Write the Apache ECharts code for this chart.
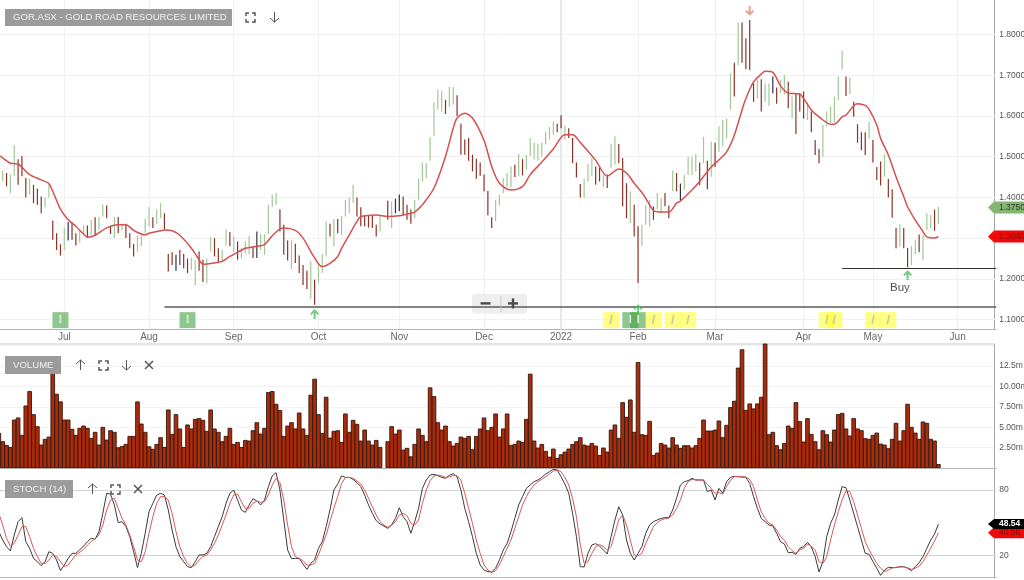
<!DOCTYPE html>
<html><head><meta charset="utf-8">
<style>html,body{margin:0;padding:0;background:#fff}#c{width:1024px;height:580px}</style>
<script src="https://cdn.jsdelivr.net/npm/echarts@6/dist/echarts.min.js"></script>
</head><body><div id="c"></div>
<script>
const monthNames = ['Jul','Aug','Sep','Oct','Nov','Dec','2022','Feb','Mar','Apr','May','Jun'];
const monthSlots = [17,39,61,83,104,126,146,166,186,209,227,249];
const slotCount = 260;
const priceGridLevels = [1.1,1.2,1.3,1.4,1.5,1.6,1.7,1.8];

const highs = [null,
1.466,1.46,1.456,1.528,1.494,1.502,1.448,1.446,1.431,1.421,1.402,1.40,1.435,1.343,1.312,1.285,1.326,1.339,1.339,1.312,1.32,1.331,1.331,1.345,1.351,1.352,1.382,1.38,1.329,1.351,1.352,1.335,1.335,1.312,1.286,1.306,1.307,1.347,1.376,1.351,1.371,1.386,1.361,
1.261,1.265,1.259,1.271,1.261,1.25,1.252,1.247,1.267,1.247,1.25,1.302,1.30,1.275,1.271,1.322,1.315,1.304,1.292,1.275,1.292,1.306,1.28,1.316,1.31,1.31,1.382,1.407,1.411,1.371,1.333,1.294,1.294,1.286,1.257,1.234,1.22,1.243,1.198,1.238,1.261,1.341,1.335,1.347,1.347,
1.355,1.394,1.40,1.431,1.40,1.376,1.355,1.355,1.355,1.333,1.353,null,1.392,1.39,1.397,1.407,1.402,1.382,1.37,1.394,1.446,1.486,1.484,1.548,1.634,1.666,1.661,1.64,1.671,1.671,1.651,1.581,1.542,1.546,1.505,1.495,1.486,1.456,1.416,1.351,1.394,1.407,1.448,1.46,1.476,1.48,1.507,1.494,1.505,1.546,1.534,1.532,1.535,1.562,1.573,1.587,1.581,1.602,1.576,1.57,1.546,1.486,1.433,1.446,1.483,1.497,1.476,1.474,1.456,1.456,1.532,1.55,1.531,1.497,1.435,1.415,1.382,1.329,1.333,1.382,1.394,1.378,1.411,1.398,1.411,1.38,1.466,1.46,
1.434,1.455,1.5,1.5,1.506,1.486,1.549,1.49,1.537,1.534,1.575,1.59,1.594,1.705,1.731,1.83,1.83,1.791,1.836,1.68,1.689,1.69,1.68,1.68,1.697,1.67,1.689,1.701,1.684,1.648,1.654,1.656,1.66,1.633,1.611,1.541,1.519,1.578,1.611,1.623,1.648,1.697,1.761,1.697,1.695,1.635,1.58,1.56,1.56,1.586,1.541,1.475,1.488,1.506,1.445,1.42,1.325,1.334,1.325,1.276,1.28,1.295,1.309,1.307,1.361,1.357,1.37,1.377];

const lows = [null,
1.44,1.427,1.41,1.452,1.431,1.452,1.40,1.407,1.386,1.382,1.361,1.376,1.40,1.296,1.271,1.257,1.271,1.294,1.296,1.282,1.289,1.308,1.302,1.308,1.306,1.32,1.353,1.349,1.31,1.30,1.312,1.32,1.30,1.275,1.255,1.267,1.28,1.312,1.329,1.325,1.335,1.349,1.322,
1.218,1.234,1.22,1.234,1.226,1.214,1.222,1.184,1.22,1.192,1.189,1.267,1.255,1.24,1.24,1.281,1.28,1.267,1.247,1.25,1.263,1.261,1.251,1.251,1.271,1.259,1.31,1.376,1.382,1.316,1.259,1.245,1.224,1.239,1.214,1.185,1.175,1.151,1.136,1.189,1.214,1.255,1.304,1.28,1.312,
1.308,1.353,1.361,1.386,1.353,1.329,1.329,1.326,1.325,1.304,1.316,null,1.345,1.325,1.361,1.366,1.357,1.345,1.335,1.349,1.394,1.439,1.448,1.49,1.55,1.616,1.611,1.605,1.622,1.628,1.6,1.505,1.505,1.49,1.464,1.446,1.453,1.415,1.356,1.325,1.341,1.38,1.411,1.427,1.425,1.45,1.452,1.454,1.468,1.501,1.493,1.49,1.501,1.53,1.542,1.554,1.56,1.57,1.542,1.546,1.484,1.449,1.40,1.398,1.439,1.452,1.431,1.439,1.425,1.423,1.472,1.48,1.484,1.378,1.349,1.337,1.304,1.19,1.281,1.333,1.329,1.345,1.37,1.361,1.378,1.349,1.415,1.415,
1.393,1.418,1.455,1.455,1.463,1.43,1.484,1.42,1.451,1.475,1.512,1.525,1.545,1.615,1.648,1.725,1.731,1.715,1.713,1.635,1.643,1.611,1.635,1.625,1.656,1.63,1.656,1.652,1.619,1.594,1.556,1.611,1.593,1.59,1.56,1.504,1.484,1.5,1.574,1.584,1.584,1.639,1.715,1.649,1.654,1.598,1.534,1.516,1.504,1.545,1.486,1.443,1.429,1.451,1.4,1.35,1.275,1.279,1.275,1.228,1.234,1.26,1.265,1.246,1.32,1.324,1.318,1.334];

// u = closed up, d = closed down, f = unchanged, - = no trade
const directions = ('-'+'uduudddudd'+'duudddufdd'+'uududuuddu'+'duddduuuud'+'uudddfdddu'+'udduudduud'+'uduuudfuuu'+'uudddudddd'+'uduuududuu'+'uuddddddu-'+
'duffddduuu'+'uuuuuduudd'+'dddddddduu'+'uuududuuuu'+'uuuudduddd'+'duuudduduu'+'dddudduuud'+'uuddudfuuu'+'udududuuuu'+'dudddduduu'+'fduududddu'+'ddduuuuuud'+'uddddudddu'+'dddudduudu'+'uudu').split('');

const maSlots = [0,1,3,4,5,6,8,11,13,14,16,18,20,22,23,25,28,31,33,35,37,38,39,42,43,45,47,50,52,53,56,58,60,62,64,67,69,71,73,74,77,79,81,83,84,86,88,
89,91,93,94,98,101,104,107,108,110,113,116,118,119,121,123,126,128,130,133,136,138,141,144,147,149,151,155,158,159,161,163,165,167,168,170,172,174,176,
177,180,182,185,187,189,191,193,194,196,198,199,201,203,205,208,209,211,213,216,217,219,220,222,223,225,226,228,229,231,233,235,236,238,240,241,243,244];
const maValues = [1.503,1.497,1.484,1.483,1.482,1.474,1.456,1.443,1.434,1.415,1.371,1.345,1.329,1.31,1.302,1.307,1.325,1.333,1.333,1.319,1.31,1.308,1.312,1.318,1.32,1.318,1.307,1.275,1.247,1.236,1.239,1.243,1.255,1.265,1.275,1.28,1.284,1.306,1.323,1.325,1.319,1.30,1.267,1.237,1.23,1.238,1.255,
1.275,1.308,1.341,1.353,1.357,1.353,1.355,1.361,1.364,1.382,1.423,1.501,1.57,1.595,1.607,1.595,1.54,1.476,1.435,1.418,1.427,1.456,1.487,1.519,1.554,1.554,1.535,1.491,1.452,1.458,1.47,1.46,1.435,1.412,1.398,1.368,1.364,1.364,1.386,
1.391,1.418,1.439,1.475,1.492,1.512,1.553,1.615,1.643,1.684,1.703,1.71,1.707,1.674,1.656,1.654,1.643,1.615,1.598,1.58,1.58,1.598,1.602,1.625,1.63,1.626,1.616,1.578,1.545,1.504,1.451,1.402,1.377,1.344,1.316,1.303,1.30,1.304];

const volumes = [4.3,
3.28,2.83,2.58,5.94,6.19,4.06,7.66,9.43,6.6,5.12,2.87,3.57,3.85,11.68,9.1,8.16,5.94,5.94,4.8,4.06,4.92,5.2,4.92,3.69,4.43,2.87,5.04,3.48,4.63,4.43,2.54,2.7,2.95,3.93,3.93,8.16,5.45,4.43,2.66,2.34,2.95,3.77,2.58,7.17,4.18,6.6,4.84,2.58,5.33,4.84,6.02,6.11,5.9,4.55,7.17,4.84,4.43,3.28,3.93,4.92,2.95,3.2,2.58,3.44,3.36,4.63,5.61,4.22,4.92,9.3,9.43,7.87,7.09,3.93,5.2,5.61,4.84,6.8,4.84,4.06,8.98,10.94,6.6,4.3,8.73,3.73,4.55,4.63,
3.2,6.68,4.43,5.9,5.41,3.36,4.71,3.36,2.87,3.44,2.58,null,3.28,5.12,4.22,4.71,2.25,2.46,1.43,2.95,4.84,4.06,3.28,9.88,8.81,5.61,4.71,5.2,3.28,2.75,3.07,3.85,3.69,3.93,2.3,3.93,4.84,6.19,4.63,5.04,6.68,3.85,4.84,6.68,2.83,2.95,3.36,3.2,6.02,11.56,3.36,2.5,2.95,2.09,1.39,2.38,1.23,1.68,2.01,2.38,2.95,3.28,3.77,2.87,2.75,3.07,2.75,1.6,2.5,2.01,4.71,5.33,3.69,8.07,6.27,8.4,4.43,12.99,4.14,4.06,5.78,1.6,1.89,3.07,2.87,2.5,3.77,2.87,2.46,
2.79,2.79,2.5,2.79,3.69,5.94,4.59,4.59,4.71,5.82,3.77,5.29,7.46,8.24,12.3,14.55,7.13,7.91,7.3,7.91,8.73,15.29,4.14,4.43,2.79,2.3,3.07,5.2,4.92,8.07,5.74,3.24,6.11,4.18,3.28,2.3,4.63,4.14,3.24,4.71,6.6,6.76,4.84,3.98,6.11,4.84,4.63,3.65,3.57,4.06,4.34,2.99,2.87,2.42,3.57,5.53,3.36,4.63,7.87,5.04,4.34,3.57,5.7,5.53,3.57,3.36,0.49];

const stochK = [41.6,
33.9,27.8,23.9,38.5,50.8,54.4,32.4,26.3,17.1,14.1,10.4,14.1,23.2,21.7,15.6,5.8,11.0,17.1,21.7,21.7,24.8,28.4,32.4,35.5,34.6,41.6,58.4,76.8,76.1,66.1,49.8,50.8,46.2,37.0,23.2,8.6,21.7,40.1,59.9,67.6,75.2,76.8,75.2,61.5,43.1,27.8,18.7,14.1,9.5,8.6,14.1,20.2,20.2,21.7,27.8,37.0,46.2,55.3,67.6,76.8,79.8,70.6,61.5,59.3,66.1,71.9,69.7,66.1,70.6,82.9,92.7,95.7,79.8,52.3,24.8,16.8,17.1,17.1,11.9,7.0,12.5,15.6,26.3,32.4,46.2,61.5,79.8,85.3,
92.7,91.4,91.4,89.6,86.5,82.9,75.2,66.1,58.4,51.7,48.6,46.8,44.6,47.7,53.8,63.6,55.3,50.8,40.1,50.8,63.0,81.3,89.0,93.6,94.2,93.0,91.4,90.5,93.3,94.8,92.0,79.8,63.0,50.8,37.0,21.7,11.0,6.4,4.9,4.6,8.0,15.6,24.8,30.9,41.6,53.8,66.1,73.7,81.3,84.4,87.5,89.0,91.4,94.5,96.6,98.8,98.2,92.0,85.3,76.8,58.4,37.0,9.5,9.2,21.7,29.4,30.6,28.4,24.8,21.1,37.0,52.3,64.5,56.9,33.9,21.7,15.6,21.7,27.8,40.1,47.7,50.8,52.3,53.8,54.4,54.4,61.5,72.2,
84.4,87.5,88.4,90.5,89.0,89.0,89.0,78.3,79.8,70.6,81.3,76.8,87.5,91.4,92.4,92.0,91.7,91.4,85.9,73.7,63.0,53.8,50.8,47.7,46.8,40.1,32.4,30.3,22.3,22.6,20.8,26.3,27.8,31.8,27.8,18.7,4.6,14.1,37.0,49.2,56.9,70.6,82.9,82.0,70.6,58.4,46.2,33.9,21.7,20.8,14.1,8.0,1.5,6.4,8.9,8.6,8.6,9.5,9.5,8.0,5.8,9.5,13.1,18.7,26.3,33.9,39.4,48.54];

const stochD = [58.4,
47.7,35.5,28.4,30.9,38.5,46.2,46.2,37.0,26.3,18.7,12.5,12.5,15.6,20.2,18.7,14.1,9.5,11.0,15.6,20.2,22.6,25.4,29.4,32.4,34.9,38.5,47.7,61.5,70.6,72.2,63.0,53.8,47.7,38.5,27.8,15.6,14.1,23.2,40.1,55.3,67.6,73.7,73.7,70.6,58.4,41.6,27.8,18.7,12.5,9.5,11.0,15.6,18.7,20.2,24.8,30.9,38.5,47.7,56.9,67.6,75.2,76.1,69.1,63.0,63.0,67.6,69.7,68.5,69.1,75.2,84.4,90.5,86.5,70.6,47.7,27.8,18.7,17.1,15.0,11.0,11.0,12.5,20.2,29.4,38.5,50.8,63.0,73.7,
85.9,91.1,91.4,90.5,88.1,85.3,79.8,72.2,64.5,56.9,50.8,47.7,45.6,47.7,50.8,56.9,58.4,56.3,49.2,47.7,52.3,67.6,79.8,88.4,92.7,93.6,92.7,91.4,92.0,93.0,93.0,89.0,76.8,63.0,49.2,33.9,21.7,11.0,6.4,4.3,5.8,11.0,18.7,26.3,33.9,44.6,55.3,66.1,73.7,79.8,84.4,87.5,89.6,92.0,94.5,97.2,98.2,96.6,91.4,84.4,72.2,55.3,29.4,12.5,14.1,21.7,27.8,29.7,27.8,24.8,27.8,40.1,52.3,56.9,47.7,33.9,20.2,19.3,21.7,30.9,38.5,46.2,49.8,52.3,53.5,54.1,56.9,63.0,
70.6,81.3,87.5,89.6,89.0,89.0,89.0,85.0,81.3,76.8,77.4,76.1,82.9,89.0,92.0,92.4,92.0,91.7,89.6,82.9,70.6,59.9,53.8,49.2,47.7,43.1,37.0,33.9,27.8,24.2,21.7,24.8,26.3,30.3,28.4,24.8,14.1,12.5,18.7,33.9,47.7,59.9,70.6,79.2,78.3,69.1,56.9,44.6,32.4,24.8,18.7,12.5,8.0,4.9,6.4,8.3,8.9,9.2,9.2,8.6,7.0,8.0,10.1,14.1,20.2,26.3,33.0,40.56];

const lens = [highs.length,lows.length,directions.length,volumes.length,stochK.length,stochD.length];
if (lens.some(l=>l!==245) || maSlots.length!==maValues.length) { throw new Error('LENGTHS '+lens.join(',')+' ma '+maSlots.length+','+maValues.length); }

const levels = {resistance:1.1305, buy:1.2263, lastPrice:1.375, lastMa:1.304, lastK:48.54, lastD:40.56};
const insiderSlots = [16,49,164,166];
const flagSlots = [159,170,175,179,215,217,227,231];
const markerPrice = 1.0985;
const upArrows = [[82,1.1133],[166,1.1255],[236,1.209]];
const downArrows = [[195,1.8585]];
const buyText = [234,1.177];

const FONT = '"Liberation Sans",Arial,sans-serif';
const categories = Array.from({length:slotCount},(_,i)=>{const k=monthSlots.indexOf(i);return k>=0?monthNames[k]:'';});
const isMonth = i => monthSlots.indexOf(i)>=0;
const priceBars = [];
highs.forEach((h,i)=>{ if(h!=null) priceBars.push([i,lows[i],h,directions[i]]); });
const dirColor = {u:'#a3c798',d:'#8a3226',f:'#2f3046'};
const arrowPath = 'path://M5 0L10 5L8.4 6.4L6.1 4.1L6.1 11L3.9 11L3.9 4.1L1.6 6.4L0 5Z';

const chart = echarts.init(document.getElementById('c'),null,{renderer:'canvas'});
const xBase = {type:'category',data:categories,boundaryGap:false,axisTick:{show:false},axisLine:{lineStyle:{color:'#b5b5b5',width:1}}};
const yBase = {type:'value',position:'right',offset:-2,axisTick:{show:false},
  axisLine:{show:true,lineStyle:{color:'#a8a8a8',width:1}},
  axisLabel:{color:'#555',fontSize:8.5,fontFamily:FONT,margin:5}};

chart.setOption({
  animation:false,
  backgroundColor:'#fff',
  grid:[
    {left:-1.15,right:27.85,top:0,height:329.7,outerBoundsMode:'none'},
    {left:-1.15,right:27.85,top:344,height:124,outerBoundsMode:'none'},
    {left:-1.15,right:27.85,top:468,height:109,outerBoundsMode:'none'}
  ],
  xAxis:[
    {...xBase,gridIndex:0,
      axisLabel:{interval:i=>isMonth(i),color:'#666',fontSize:10,fontFamily:FONT,margin:3},
      splitLine:{show:true,interval:i=>isMonth(i),lineStyle:{color:'#f1f1f1',width:1}}},
    {...xBase,gridIndex:1,axisLabel:{show:false},splitLine:{show:false}},
    {...xBase,gridIndex:2,axisLabel:{show:false},splitLine:{show:false}}
  ],
  yAxis:[
    {...yBase,gridIndex:0,min:1.075,max:1.885,interval:0.025,
      axisLabel:{...yBase.axisLabel,showMinLabel:false,showMaxLabel:false,
        formatter:v=>priceGridLevels.some(l=>Math.abs(l-v)<1e-6)?v.toFixed(4):''},
      splitLine:{show:false}},
    {...yBase,gridIndex:1,min:0,max:15.2,interval:2.5,
      axisLabel:{...yBase.axisLabel,showMinLabel:false,showMaxLabel:false,formatter:v=>v>=15?'':(v===12.5?'12.5m':v.toFixed(2)+'m')},
      splitLine:{show:true,showMinLine:false,showMaxLine:false,lineStyle:{color:'#f3f3f3'}}},
    {...yBase,gridIndex:2,min:0,max:100,interval:20,
      axisLabel:{...yBase.axisLabel,formatter:v=>(v===80||v===20)?String(v):''},
      splitLine:{show:false}}
  ],
  series:[
    {type:'line',name:'Grid',xAxisIndex:0,yAxisIndex:0,data:[[0,null]],z:1,showSymbol:false,
      markLine:{z:1,silent:true,symbol:'none',label:{show:false},animation:false,
        lineStyle:{color:'#f1f1f1',width:1,type:'solid'},
        data:priceGridLevels.map(l=>({yAxis:l})).concat([
          [{coord:[monthSlots[6],1.885],lineStyle:{color:'#e2e2e2',width:1.5,type:'solid'}},{coord:[monthSlots[6],1.075]}]
        ])}},
    {type:'custom',name:'Price',xAxisIndex:0,yAxisIndex:0,data:priceBars,encode:{x:0,y:[1,2]},
      renderItem:(p,api)=>{
        const a=api.coord([api.value(0),api.value(1)]), b=api.coord([api.value(0),api.value(2)]);
        const d=priceBars[p.dataIndex][3];
        return {type:'line',shape:{x1:a[0],y1:a[1],x2:b[0],y2:b[1]},style:{stroke:dirColor[d],lineWidth:1.2}};
      },z:2},
    {type:'line',name:'MA',xAxisIndex:0,yAxisIndex:0,data:maSlots.map((s,i)=>[s,maValues[i]]),
      showSymbol:false,smooth:0.3,lineStyle:{color:'#d5504f',width:1.5},z:3,
      markLine:{z:3,silent:true,symbol:'none',label:{show:false},animation:false,data:[
        [{coord:[43,levels.resistance],lineStyle:{color:'#5a5a5a',width:1.5,type:'solid'}},{coord:[259,levels.resistance]}],
        [{coord:[219,levels.buy],lineStyle:{color:'#333',width:1.2,type:'solid'}},{coord:[259,levels.buy]}]
      ]}},
    {type:'scatter',name:'Insider',xAxisIndex:0,yAxisIndex:0,symbol:'rect',symbolSize:16,z:4,
      data:insiderSlots.map(s=>[s,markerPrice]),itemStyle:{color:'rgba(60,160,60,0.72)'},
      label:{show:true,position:'inside',formatter:'I',color:'#ffffff',fontSize:10,fontWeight:'bold',fontFamily:FONT}},
    {type:'scatter',name:'Flags',xAxisIndex:0,yAxisIndex:0,symbol:'rect',symbolSize:16,z:4,
      data:flagSlots.map(s=>[s,markerPrice]),itemStyle:{color:'rgba(255,255,60,0.78)'},
      label:{show:true,position:'inside',formatter:'/',color:'#b9b9a0',fontSize:13,fontWeight:'bold',fontFamily:FONT}},
    {type:'scatter',name:'Up',xAxisIndex:0,yAxisIndex:0,symbol:arrowPath,symbolSize:[9,10],z:5,
      data:upArrows,itemStyle:{color:'#45c65a'}},
    {type:'scatter',name:'Down',xAxisIndex:0,yAxisIndex:0,symbol:arrowPath,symbolRotate:180,symbolSize:[9,10],z:5,
      data:downArrows,itemStyle:{color:'#e08a80'}},
    {type:'scatter',name:'Buy',xAxisIndex:0,yAxisIndex:0,symbolSize:0,z:5,data:[buyText],
      label:{show:true,position:'inside',formatter:'Buy',color:'#222',fontSize:11.5,fontFamily:FONT}},
    {type:'bar',name:'Volume',xAxisIndex:1,yAxisIndex:1,data:volumes,barWidth:4.6,
      itemStyle:{color:'#ab2c0a',borderColor:'#33170f',borderWidth:0.9}},
    {type:'line',name:'%K',xAxisIndex:2,yAxisIndex:2,data:stochK,showSymbol:false,lineStyle:{color:'#3a3a3a',width:1},z:3,
      markLine:{z:1,silent:true,symbol:'none',label:{show:false},animation:false,
        lineStyle:{color:'#d2d2d2',width:1.2,type:'solid'},data:[{yAxis:80},{yAxis:20}]}},
    {type:'line',name:'%D',xAxisIndex:2,yAxisIndex:2,data:stochD,showSymbol:false,lineStyle:{color:'#d9575a',width:1},z:4}
  ]
});

// Decoration: panel captions, tool icons and last-value tags
const ICON = {
  up:[[[0,4],[4.5,0],[9,4]],[[4.5,0],[4.5,10]]],
  down:[[[0,6],[4.5,10],[9,6]],[[4.5,10],[4.5,0]]],
  full:[[[0,3],[0,0],[3,0]],[[6,0],[9,0],[9,3]],[[9,6],[9,9],[6,9]],[[3,9],[0,9],[0,6]]],
  close:[[[0,0],[8,8]],[[8,0],[0,8]]]
};
const g=[];
function icon(kind,x,y,wd){
  ICON[kind].forEach(seg=>g.push({type:'polyline',z:20,shape:{points:seg.map(p=>[p[0]+x,p[1]+y])},style:{fill:'none',stroke:'#555',lineWidth:wd||1}}));
}
function tag(x,y,w,h,txt){
  g.push({type:'rect',z:20,shape:{x:x,y:y,width:w,height:h},style:{fill:'#9b9b9b'}});
  g.push({type:'text',z:21,style:{x:x+8,y:y+h/2,text:txt,fill:'#f0f0f0',font:'9.6px '+FONT,textVerticalAlign:'middle'}});
}
tag(5,9,227,17,'GOR.ASX - GOLD ROAD RESOURCES LIMITED');
tag(5,356,56,18,'VOLUME');
tag(5,480,68,18,'STOCH (14)');
icon('full',246,13,1.5); icon('down',270,12);
icon('up',76,360); icon('full',99,361,1.5); icon('down',122,360); icon('close',145,361,1.5);
icon('up',88,484); icon('full',111,485,1.5); icon('close',134,485,1.5);
// zoom control
g.push({type:'rect',z:1,shape:{x:472,y:294,width:55,height:19.5,r:3},style:{fill:'#eeeeee'}});
g.push({type:'rect',z:20,shape:{x:480.5,y:302.2,width:10,height:2.4},style:{fill:'#4a4a4a'}});
g.push({type:'rect',z:20,shape:{x:508,y:302.2,width:10,height:2.4},style:{fill:'#4a4a4a'}});
g.push({type:'rect',z:20,shape:{x:511.8,y:298.4,width:2.4,height:10},style:{fill:'#4a4a4a'}});
g.push({type:'rect',z:20,shape:{x:500.5,y:296,width:0.8,height:16},style:{fill:'#c4c4c4'}});
// right side value tags, placed through the axis scales
function valueTag(yAxisIndex,val,label,fill,color,bold,h){
  const y=chart.convertToPixel({yAxisIndex:yAxisIndex},val);
  g.push({type:'polygon',z:22,shape:{points:[[988,y],[994,y-h/2],[1024,y-h/2],[1024,y+h/2],[994,y+h/2]]},style:{fill:fill}});
  g.push({type:'text',z:23,style:{x:999,y:y,text:label,fill:color,font:(bold?'bold ':'')+'8.5px '+FONT,textVerticalAlign:'middle'}});
}
valueTag(0,levels.lastPrice,levels.lastPrice.toFixed(4),'#84b672','#2c3a22',false,12);
valueTag(0,levels.lastMa,levels.lastMa.toFixed(4),'#ee0a0a','#7a1010',false,12);
valueTag(2,levels.lastD,levels.lastD.toFixed(2),'#ee0a0a','#7a1010',false,11);
valueTag(2,levels.lastK,levels.lastK.toFixed(2),'#000','#fff',true,10);
// top edge of the volume panel
g.push({type:'rect',z:1,shape:{x:0,y:343.5,width:994,height:1},style:{fill:'#c9c9c9'}});
chart.setOption({graphic:{elements:g}});
</script></body></html>
